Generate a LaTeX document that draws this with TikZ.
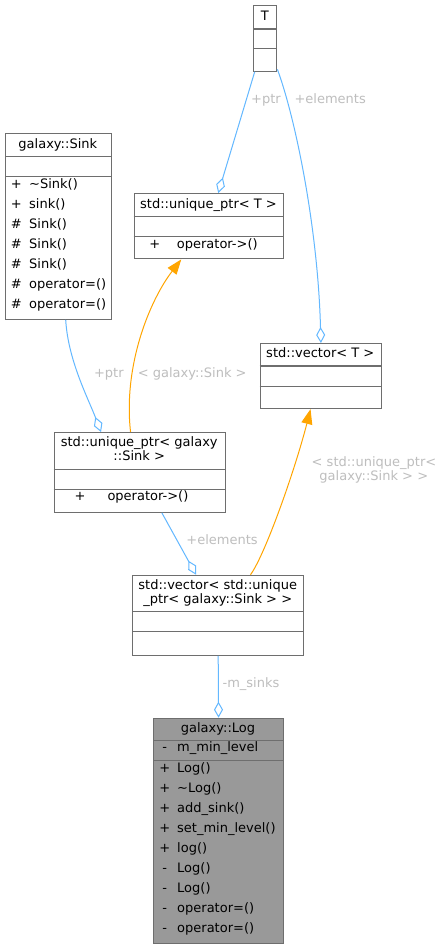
\documentclass[tikz,border=0pt]{standalone}
\usepackage{fontspec}
\setmainfont{DejaVu Sans}
\usetikzlibrary{arrows.meta}
\definecolor{boxline}{HTML}{6E6E6E}
\definecolor{logfill}{HTML}{999999}
\definecolor{edgeblue}{HTML}{63B8FF}
\definecolor{edgeorange}{HTML}{FFA500}
\definecolor{lblgray}{HTML}{BEBEBE}
\newcommand\dfont{\fontsize{13pt}{14pt}\selectfont}
\tikzset{
 clsbox/.style={draw=boxline, line width=1.1pt, fill=white, rectangle, inner sep=0pt, anchor=north west},
 divider/.style={draw=boxline, line width=1.1pt},
 ctext/.style={inner sep=0pt, font=\dfont, text=black, anchor=mid},
 ltext/.style={inner sep=0pt, font=\dfont, text=black, anchor=mid west},
 elabel/.style={inner sep=0pt, font=\dfont, text=lblgray, anchor=mid},
 assoc/.style={draw=edgeblue, line width=1pt, -{Diamond[open, length=16pt, width=9pt]}},
 inst/.style={draw=edgeorange, line width=1pt, -{Triangle[length=15pt, width=11pt]}},
}
\begin{document}
\begin{tikzpicture}[x=1pt,y=-1pt]
\useasboundingbox (0,0) rectangle (442,948);
\fill[white] (0,0) rectangle (442,948);

% ---- T ----
\node[clsbox, minimum width=23pt, minimum height=65.7pt] (boxT) at (253.3,5) {};
\draw[divider] (253.3,29) -- (276.3,29);
\draw[divider] (253.3,48.7) -- (276.3,48.7);
\node[ctext] (tT) at (264.8,17.3) {T};

% ---- galaxy::Sink ----
\node[clsbox, minimum width=105.7pt, minimum height=185.4pt] (boxSink) at (5,133.3) {};
\draw[divider] (5,156.7) -- (110.7,156.7);
\draw[divider] (5,176.7) -- (110.7,176.7);
\node[ctext] (tSink) at (57.8,145.5) {galaxy::Sink};
\foreach \s/\n [count=\i] in {{+}/{\textasciitilde Sink()}, {+}/{sink()}, {\#}/{Sink()}, {\#}/{Sink()}, {\#}/{Sink()}, {\#}/{operator=()}, {\#}/{operator=()}}{
  \node[ctext] (sinkS\i) at (16.3,{185.3+20*(\i-1)}) {\s};
  \node[ltext] (sinkN\i) at (29,{185.3+20*(\i-1)}) {\n};
}

% ---- std::unique_ptr< T > ----
\node[clsbox, minimum width=149.6pt, minimum height=65.3pt] (boxUpT) at (133.7,193) {};
\draw[divider] (133.7,216.7) -- (283.3,216.7);
\draw[divider] (133.7,236.7) -- (283.3,236.7);
\node[ctext] (tUpT) at (208.5,205.3) {std::unique\_ptr< T >};
\node[ctext] (upTS) at (154.7,245.3) {+};
\node[ltext] (upTN) at (176.7,245.3) {operator->()};

% ---- std::vector< T > ----
\node[clsbox, minimum width=121.3pt, minimum height=65pt] (boxVecT) at (259.7,343) {};
\draw[divider] (259.7,366) -- (381,366);
\draw[divider] (259.7,386.3) -- (381,386.3);
\node[ctext] (tVecT) at (320.3,355) {std::vector< T >};

% ---- std::unique_ptr< galaxy::Sink > ----
\node[clsbox, minimum width=171pt, minimum height=79.7pt] (boxUpS) at (53.7,432) {};
\draw[divider] (53.7,469.3) -- (224.7,469.3);
\draw[divider] (53.7,489.3) -- (224.7,489.3);
\node[ctext] (tUpSa) at (139.2,443.7) {std::unique\_ptr< galaxy};
\node[ctext] (tUpSb) at (139.2,457.7) {::Sink >};
\node[ctext] (upSS) at (80,498) {+};
\node[ltext] (upSN) at (107.3,498) {operator->()};

% ---- std::vector< std::unique_ptr< galaxy::Sink > > ----
\node[clsbox, minimum width=170.7pt, minimum height=80pt] (boxVecS) at (132.3,574.7) {};
\draw[divider] (132.3,611.7) -- (303,611.7);
\draw[divider] (132.3,631.7) -- (303,631.7);
\node[ctext] (tVecSa) at (217.7,586.7) {std::vector< std::unique};
\node[ctext] (tVecSb) at (217.7,600.7) {\_ptr< galaxy::Sink > >};

% ---- galaxy::Log ----
\node[clsbox, fill=logfill, minimum width=130pt, minimum height=225pt] (boxLog) at (153,717.7) {};
\draw[divider] (153,740.3) -- (283,740.3);
\draw[divider] (153,760.3) -- (283,760.3);
\node[ctext] (tLog) at (218,730) {galaxy::Log};
\node[ctext] (logAS) at (164.7,749) {-};
\node[ltext] (logAN) at (177,749) {m\_min\_level};
\foreach \s/\n [count=\i] in {{+}/{Log()}, {+}/{\textasciitilde Log()}, {+}/{add\_sink()}, {+}/{set\_min\_level()}, {+}/{log()}, {-}/{Log()}, {-}/{Log()}, {-}/{operator=()}, {-}/{operator=()}}{
  \node[ctext] (logS\i) at (164.7,{769.3+20*(\i-1)}) {\s};
  \node[ltext] (logN\i) at (177,{769.3+20*(\i-1)}) {\n};
}

% ---- connectors ----
\draw[assoc] ([xshift=1.4pt]boxT.south west) -- ([xshift=9.2pt]boxUpT.north);
\draw[assoc] ([yshift=2.5pt]boxT.south east) .. controls (296,120) and (318,230) .. (boxVecT.north);
\draw[assoc] ([xshift=60.7pt]boxSink.south west) .. controls (68,360) and (88,398) .. ([xshift=-38.7pt]boxUpS.north);
\draw[inst] ([xshift=-9.2pt]boxUpS.north) .. controls (123,365) and (150,300) .. ([xshift=-27.8pt]boxUpT.south);
\draw[assoc] ([xshift=22.1pt]boxUpS.south) -- ([xshift=-22.15pt]boxVecS.north);
\draw[inst] ([xshift=32.3pt]boxVecS.north) .. controls (265,555) and (295,470) .. ([xshift=-10.35pt]boxVecT.south);
\draw[assoc] (boxVecS.south) -- (boxLog.north);

% ---- labels ----
\node[elabel] (l1) at (266,100.7) {+ptr};
\node[elabel] (l2) at (330.2,100.7) {+elements};
\node[elabel] (l3) at (108.8,374.3) {+ptr};
\node[elabel] (l4) at (192.2,374.3) {< galaxy::Sink >};
\node[elabel] (l5a) at (374,463.3) {< std::unique\_ptr<};
\node[elabel] (l5b) at (373.8,478) {galaxy::Sink > >};
\node[elabel] (l6) at (222,542) {+elements};
\node[elabel] (l7) at (251,684.3) {-m\_sinks};
\end{tikzpicture}
\end{document}
